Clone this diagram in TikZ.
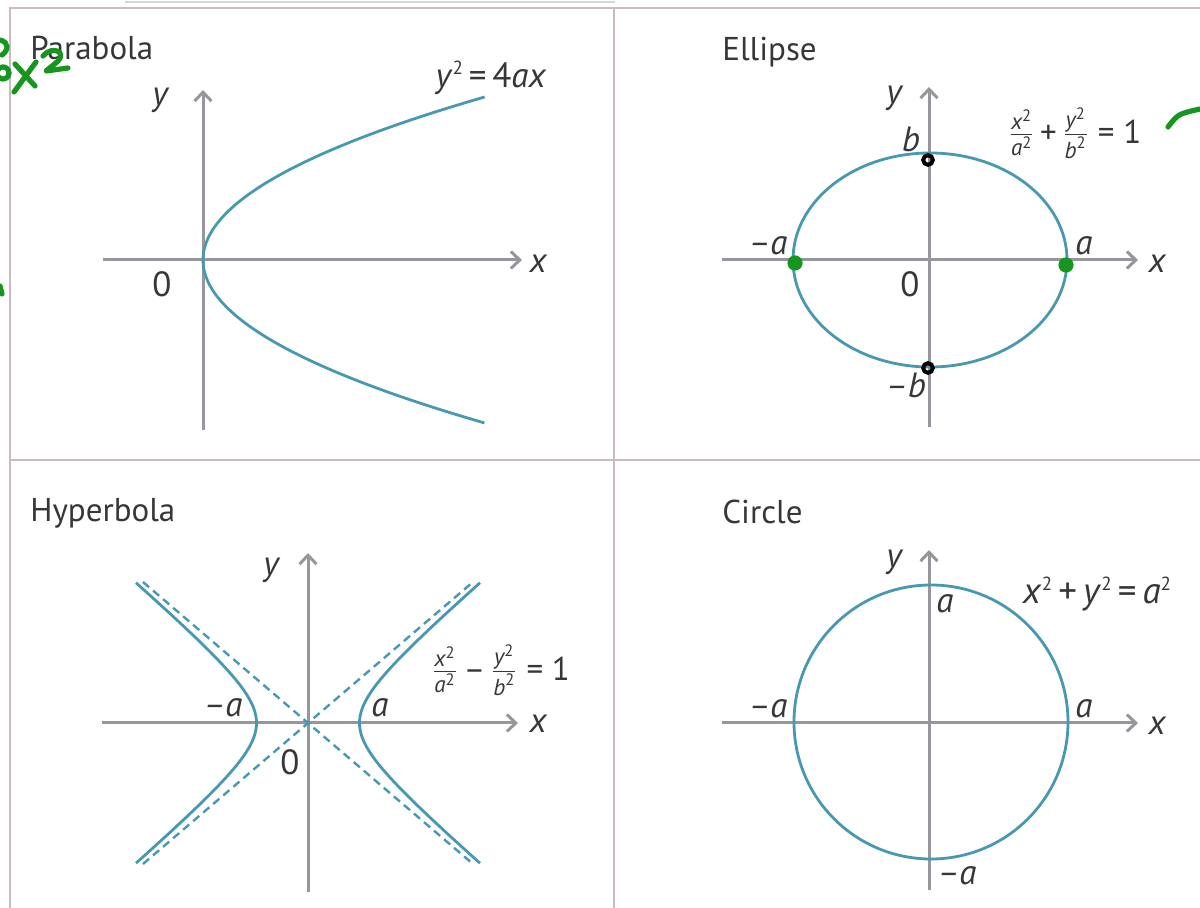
\documentclass[tikz,border=0pt]{standalone}
\usepackage{amsmath}
\usepackage{fontspec}
\setmainfont{PT Sans}
\usepackage{xcolor}
\usetikzlibrary{arrows.meta,calc}

\definecolor{conic}{RGB}{72,152,178}
\definecolor{axisgray}{RGB}{150,150,156}
\definecolor{textgray}{RGB}{55,55,58}
\definecolor{framepink}{RGB}{205,185,194}
\definecolor{inkgreen}{RGB}{22,150,30}

\newcommand{\vv}[1]{\textit{#1}}
\newcommand{\sq}{\raisebox{0.75ex}{\fontsize{9.5}{9.5}\selectfont 2}}
\newcommand{\mn}{\textendash}

\tikzset{
  coordaxis/.style={draw=axisgray, line width=1.5pt, -{Straight Barb[length=4.5pt,width=8.5pt]}},
  conicline/.style={draw=conic, line width=1.4pt},
  panelline/.style={draw=framepink, line width=0.9pt},
  paneltitle/.style={anchor=base west, text=textgray, inner sep=0pt, font=\fontsize{16.5}{18}\selectfont},
  axlabel/.style={text=textgray, inner sep=0pt, font=\fontsize{17.5}{19}\selectfont\itshape},
  numlabel/.style={text=textgray, inner sep=0pt, font=\fontsize{17.5}{19}\selectfont},
  eqlabel/.style={text=textgray, inner sep=0pt, font=\fontsize{16.5}{18}\selectfont},
  ink/.style={draw=inkgreen, line width=2.6pt, line cap=round, line join=round}
}

\begin{document}
\begin{tikzpicture}[x=0.5pt,y=-0.5pt]
\useasboundingbox (0,0) rectangle (1200,908);

\draw[panelline, draw=axisgray!40] (125,2) -- (615,2);
\draw[panelline] (10,908) -- (10,8) -- (1200,8);
\draw[panelline] (614,8) -- (614,908);
\draw[panelline] (10,460) -- (1200,460);

% parabola
\node[paneltitle] (parT) at (30,60) {Parabola};
\draw[coordaxis] (203,430) -- (203,90);
\draw[coordaxis] (103,260) -- (522,260);
\draw[conicline] plot[domain=-1.63:1.63, samples=61, smooth] ({203+106*\x*\x},{260+100*\x});
\node[axlabel] (parY) at (160,100) {y};
\node[axlabel] (parX) at (538,264) {x};
\node[numlabel] (par0) at (162,284) {0};
\node[eqlabel, font=\fontsize{17.5}{19}\selectfont] (parE) at (491,78) {\vv{y}\sq\,=\,4\vv{ax}};

% ellipse
\node[paneltitle] (ellT) at (722,61) {Ellipse};
\draw[coordaxis] (929,427) -- (929,87);
\draw[coordaxis] (722,260) -- (1138,260);
\draw[conicline] (930,260) ellipse [x radius=68.5pt, y radius=53.5pt];
\node[axlabel] (ellY) at (894,98) {y};
\node[axlabel] (ellX) at (1157,264) {x};
\node[numlabel] (ell0) at (910,284) {0};
\node[axlabel] (ellB) at (911,139) {b};
\node[axlabel] (ellMB) at (906,385) {\mn b};
\node[axlabel] (ellMA) at (768,246) {\mn a};
\node[axlabel] (ellA) at (1084,246) {a};
\node[eqlabel] (ellE) at (1075,133) {$\frac{\vv{x}^{\text{2}}}{\vv{a}^{\text{2}}}$\,+\,$\frac{\vv{y}^{\text{2}}}{\vv{b}^{\text{2}}}$ = 1};
\foreach \px/\py in {795/263, 1066/265}
    \fill[inkgreen] (\px,\py) circle (3.8pt);
\foreach \py in {160,368}
    \draw[black, line width=2pt] (928,\py) circle (2.4pt);

% hyperbola
\node[paneltitle] (hypT) at (30,522) {Hyperbola};
\draw[coordaxis] (308,892) -- (308,553);
\draw[coordaxis] (102,723) -- (518,723);
\draw[conicline] plot[domain=-1.876:1.876, samples=61, smooth] ({308+51.5*cosh(\x)},{723+44*sinh(\x)});
\draw[conicline] plot[domain=-1.876:1.876, samples=61, smooth] ({308-51.5*cosh(\x)},{723+44*sinh(\x)});
\draw[conicline, line width=1.2pt, dash pattern=on 4pt off 2.6pt] (143,582) -- (473,864);
\draw[conicline, line width=1.2pt, dash pattern=on 4pt off 2.6pt] (143,864) -- (473,582);
\node[axlabel] (hypY) at (271,570) {y};
\node[axlabel] (hypX) at (538,724) {x};
\node[numlabel] (hyp0) at (290,762) {0};
\node[axlabel] (hypMA) at (223,708) {\mn a};
\node[axlabel] (hypA) at (380,708) {a};
\node[eqlabel] (hypE) at (501,670) {$\frac{\vv{x}^{\text{2}}}{\vv{a}^{\text{2}}}$\,\mn\,$\frac{\vv{y}^{\text{2}}}{\vv{b}^{\text{2}}}$ = 1};

% circle
\node[paneltitle] (cirT) at (722,524) {Circle};
\draw[coordaxis] (929,890) -- (929,550);
\draw[coordaxis] (722,723) -- (1138,723);
\draw[conicline] (931,722) circle (68.5pt);
\node[axlabel] (cirY) at (894,562) {y};
\node[axlabel] (cirX) at (1157,726) {x};
\node[axlabel] (cirA) at (945,604) {a};
\node[axlabel] (cirMA) at (957,876) {\mn a};
\node[axlabel] (cirLA) at (768,709) {\mn a};
\node[axlabel] (cirRA) at (1084,709) {a};
\node[eqlabel, font=\fontsize{18.5}{20}\selectfont] (cirE) at (1097,594) {\vv{x}\sq\,+\,\vv{y}\sq\,=\,\vv{a}\sq};

% ink
\draw[ink] (1168,127) .. controls (1178,114) .. (1200,109);
\draw[ink] (15,64) -- (35,86);
\draw[ink] (36,62) -- (14,92);
\draw[ink] (43,56) .. controls (52,45) and (68,52) .. (57,62) -- (46,71) -- (68,68);
\draw[ink] (0,40) .. controls (9,42) and (9,50) .. (2,55);
\draw[ink] (3,73) circle (3pt);
\draw[ink] (0,286) -- (2,294);

\end{tikzpicture}
\end{document}
